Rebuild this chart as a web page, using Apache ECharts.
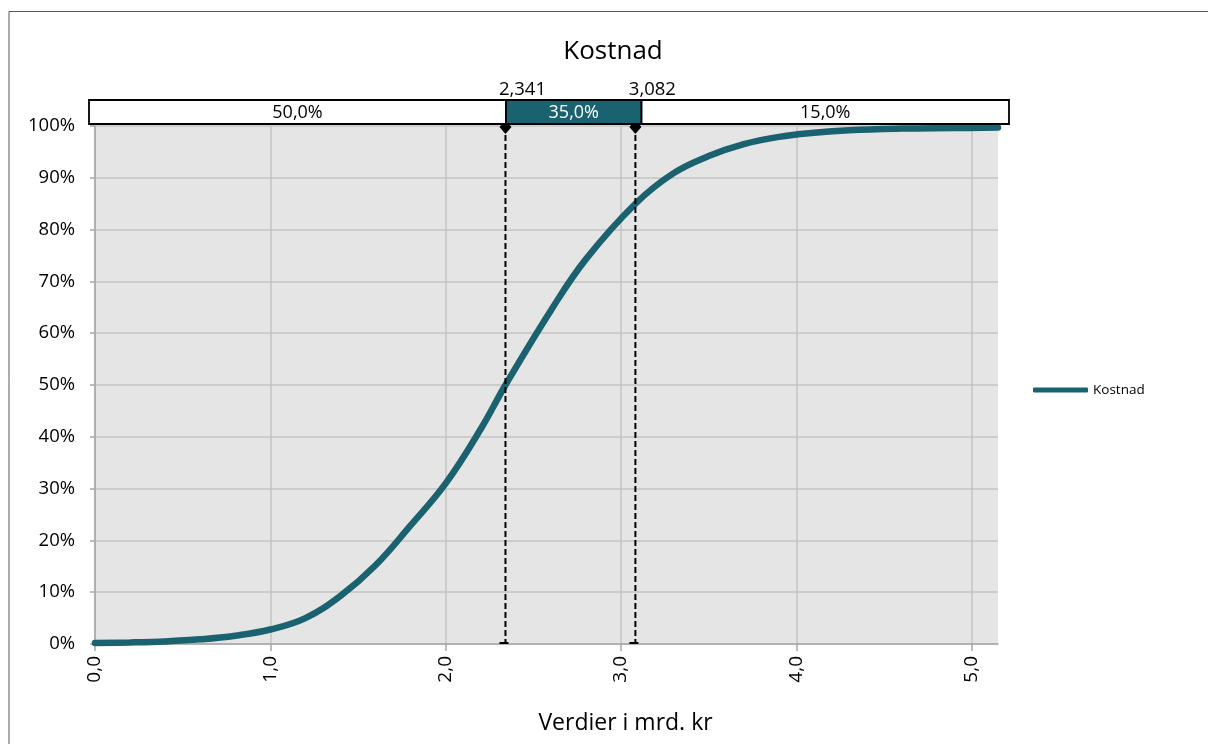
<!DOCTYPE html>
<html>
<head>
<meta charset="utf-8">
<script src="https://cdn.jsdelivr.net/npm/echarts@6/dist/echarts.min.js"></script>
<style>
html,body{margin:0;padding:0;background:#fff;}
#chart{width:1208px;height:744px;}
</style>
</head>
<body>
<div id="chart"></div>
<script>
// ---- data ----
const seriesName = 'Kostnad';
const xValues = [0, 0.2, 0.4, 0.6, 0.8, 1.0, 1.2, 1.4, 1.6, 1.8, 2.0, 2.2, 2.341, 2.6, 2.8, 3.082, 3.3, 3.5, 3.7, 3.9, 4.1, 4.3, 4.6, 4.9, 5.15];
const cdfPercent = [0.2, 0.3, 0.5, 0.9, 1.6, 2.8, 5.0, 9.3, 15.2, 22.9, 31.0, 41.5, 50.0, 64.4, 74.3, 85.0, 90.9, 94.2, 96.5, 97.9, 98.7, 99.2, 99.5, 99.6, 99.7];
const quantileValues = [2.341, 3.082];
const quantileLabels = ['2,341', '3,082'];
const bandLabels = ['50,0%', '35,0%', '15,0%'];
const rangeMin = 0.061;
const rangeMax = 5.091;
const xTickValues = [0, 1, 2, 3, 4, 5];
const xMax = 5.15;

// ---- styling ----
const TEAL = '#1b6270';
const FONT = 'Open Sans';

const lineData = xValues.map((x, i) => [x, cdfPercent[i]]);
const bandBounds = [rangeMin].concat(quantileValues, [rangeMax]);
const bandData = bandLabels.map((lab, i) => [bandBounds[i], bandBounds[i + 1], i]);

const chart = echarts.init(document.getElementById('chart'), null, {renderer: 'canvas'});

const option = {
  backgroundColor: '#ffffff',
  animation: false,
  textStyle: {fontFamily: FONT},
  title: {
    text: 'Kostnad',
    left: 613,
    textAlign: 'center',
    top: 39,
    padding: 0,
    textStyle: {fontFamily: FONT, fontSize: 26, fontWeight: 'normal', color: '#000'}
  },
  legend: {
    data: [seriesName],
    left: 1028,
    top: 378,
    icon: 'roundRect',
    itemWidth: 55,
    itemHeight: 5,
    textStyle: {fontFamily: FONT, fontSize: 13.5, color: '#000'}
  },
  graphic: [{
    type: 'rect',
    silent: true,
    shape: {x: 9, y: 11.5, width: 1400, height: 900},
    style: {fill: 'none', stroke: '#595959', lineWidth: 1}
  }],
  grid: [
    {left: 95, right: 210, top: 126, bottom: 100, show: true, backgroundColor: '#e5e5e5', borderWidth: 0},
    {left: 89, width: 920, top: 100, height: 24, show: false}
  ],
  xAxis: [
    {
      type: 'value', gridIndex: 0, min: 0, max: xMax, interval: 1,
      name: 'Verdier i mrd. kr',
      nameLocation: 'middle',
      nameGap: 68,
      nameTextStyle: {fontFamily: FONT, fontSize: 23, color: '#000', padding: [0, 0, 0, 158]},
      axisLine: {show: true, lineStyle: {color: '#a6a6a6', width: 1.5}},
      axisTick: {show: true, length: 7, customValues: xTickValues, lineStyle: {color: '#a6a6a6', width: 1.5}},
      axisLabel: {
        rotate: 90, margin: 12, fontFamily: FONT, fontSize: 19, color: '#000',
        customValues: xTickValues,
        formatter: v => v.toFixed(1).replace('.', ',')
      },
      splitLine: {show: true, lineStyle: {color: '#c3c3c3', width: 1.5}}
    },
    {
      type: 'value', gridIndex: 1, min: rangeMin, max: rangeMax, show: false,
      splitLine: {show: false}
    }
  ],
  yAxis: [
    {
      type: 'value', gridIndex: 0, min: 0, max: 100, interval: 10,
      axisLine: {show: true, lineStyle: {color: '#a6a6a6', width: 1.5}},
      axisTick: {show: true, length: 5, lineStyle: {color: '#a6a6a6', width: 1.5}},
      axisLabel: {margin: 20, fontFamily: FONT, fontSize: 18.5, color: '#000', formatter: '{value}%'},
      splitLine: {show: true, lineStyle: {color: '#c3c3c3', width: 1.5}}
    },
    {
      type: 'value', gridIndex: 1, min: 0, max: 1, show: false, splitLine: {show: false}
    }
  ],
  series: [
    {
      name: seriesName,
      type: 'line',
      xAxisIndex: 0, yAxisIndex: 0,
      data: lineData,
      smooth: 0.4,
      showSymbol: false,
      symbol: 'none',
      lineStyle: {color: TEAL, width: 6.5, cap: 'round'},
      itemStyle: {color: TEAL},
      z: 3
    },
    {
      name: 'quantileLines',
      type: 'custom',
      xAxisIndex: 0, yAxisIndex: 0,
      clip: false,
      data: quantileValues.map((q, i) => [q, i]),
      encode: {x: 0},
      z: 4,
      renderItem: function (params, api) {
        const x = api.value(0);
        const idx = api.value(1);
        const top = api.coord([x, 100]);
        const bot = api.coord([x, 0]);
        return {
          type: 'group',
          children: [
            {type: 'line', shape: {x1: top[0], y1: top[1], x2: bot[0], y2: bot[1]},
              style: {stroke: '#000', lineWidth: 2, lineDash: [6, 3]}},
            {type: 'polygon', shape: {points: [[top[0], top[1] - 6], [top[0] + 6, top[1] + 1], [top[0], top[1] + 8], [top[0] - 6, top[1] + 1]]},
              style: {fill: '#000'}},
            {type: 'line', shape: {x1: bot[0] - 6, y1: bot[1] - 1, x2: bot[0] + 3, y2: bot[1] - 1},
              style: {stroke: '#000', lineWidth: 2}},
            {type: 'text', x: top[0] + 17, y: top[1] - 36,
              style: {text: quantileLabels[idx], fill: '#000', font: '18.5px "' + FONT + '"', align: 'center', verticalAlign: 'middle'}}
          ]
        };
      }
    },
    {
      name: 'band',
      type: 'custom',
      xAxisIndex: 1, yAxisIndex: 1,
      clip: false,
      data: bandData,
      encode: {x: [0, 1]},
      z: 5,
      renderItem: function (params, api) {
        const a = api.coord([api.value(0), 1]);
        const b = api.coord([api.value(1), 0]);
        const i = api.value(2);
        const mid = i === 1;
        return {
          type: 'group',
          children: [
            {type: 'rect', shape: {x: a[0], y: a[1], width: b[0] - a[0], height: b[1] - a[1]},
              style: {fill: mid ? TEAL : '#ffffff', stroke: '#000', lineWidth: 1.8}},
            {type: 'text', x: (a[0] + b[0]) / 2, y: (a[1] + b[1]) / 2 + 1,
              style: {text: bandLabels[i], fill: mid ? '#ffffff' : '#000', font: '18px "' + FONT + '"', align: 'center', verticalAlign: 'middle'}}
          ]
        };
      }
    }
  ]
};
chart.setOption(option);
</script>
</body>
</html>
